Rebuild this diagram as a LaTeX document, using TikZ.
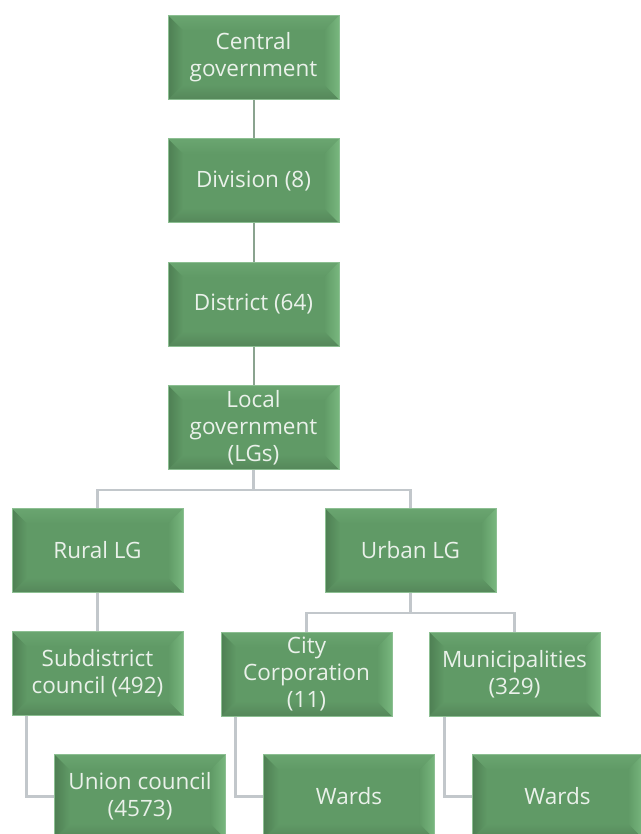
\documentclass[tikz,border=0pt]{standalone}
\usepackage{fontspec}
\setmainfont{Open Sans}
\usetikzlibrary{calc}
\definecolor{face}{HTML}{609A66}
\definecolor{bvdark}{HTML}{4E7F53}
\definecolor{bvlight}{HTML}{78B77E}
\definecolor{bvtop}{HTML}{6AA570}
\definecolor{bvbot}{HTML}{55875A}
\definecolor{boxborder}{HTML}{8CBF92}
\definecolor{txt}{HTML}{EAF1EA}
\definecolor{chainline}{HTML}{8AA38F}
\definecolor{treeline}{HTML}{C2C7CB}
\tikzset{
  orgbox/.style={rectangle, fill=face, draw=boxborder, line width=1pt,
    minimum width=171pt, minimum height=84pt, inner sep=0pt, align=center,
    text=txt, font=\fontsize{22.5}{27}\selectfont,
    path picture={
      \coordinate (bsw) at (path picture bounding box.south west);
      \coordinate (bse) at (path picture bounding box.south east);
      \coordinate (bnw) at (path picture bounding box.north west);
      \coordinate (bne) at (path picture bounding box.north east);
      \shade[top color=bvtop, bottom color=face] (bnw) -- (bne) -- ($(bne)+(-15pt,-15pt)$) -- ($(bnw)+(15pt,-15pt)$) -- cycle;
      \shade[top color=face, bottom color=bvbot] (bsw) -- (bse) -- ($(bse)+(-15pt,15pt)$) -- ($(bsw)+(15pt,15pt)$) -- cycle;
      \shade[left color=bvdark, right color=face] (bsw) -- (bnw) -- ($(bnw)+(15pt,-15pt)$) -- ($(bsw)+(15pt,15pt)$) -- cycle;
      \shade[left color=face, right color=bvlight] (bse) -- (bne) -- ($(bne)+(-15pt,-15pt)$) -- ($(bse)+(-15pt,15pt)$) -- cycle;
    }},
  chain/.style={draw=chainline, line width=2pt},
  tree/.style={draw=treeline, line width=2.2pt}
}
\begin{document}
\begin{tikzpicture}[x=1pt,y=-1pt]
\path[use as bounding box, fill=white] (0,0) rectangle (640,834);
\node[orgbox] (cg) at (253.5,57.5) {Central\\government};
\node[orgbox] (div) at (253.5,181) {Division (8)};
\node[orgbox] (dist) at (253.5,304) {District (64)};
\node[orgbox] (lg) at (253.5,427.5) {Local\\government\\(LGs)};
\node[orgbox] (rural) at (97.5,550.5) {Rural LG};
\node[orgbox] (urban) at (410.5,550.5) {Urban LG};
\node[orgbox] (sub) at (97.5,673.5) {Subdistrict\\council (492)};
\node[orgbox] (city) at (306.5,674) {City\\Corporation\\(11)};
\node[orgbox] (mun) at (514.5,674) {Municipalities\\(329)};
\node[orgbox] (union) at (140,796.5) {Union council\\(4573)};
\node[orgbox] (wards1) at (349,796.5) {Wards};
\node[orgbox] (wards2) at (557.5,796.5) {Wards};
\path[chain] (cg.south) -- (div.north);
\path[chain] (div.south) -- (dist.north);
\path[chain] (dist.south) -- (lg.north);
\path[tree] (lg.south) -- ++(0,20) -| (rural.north);
\path[tree] (lg.south) -- ++(0,20) -| (urban.north);
\path[tree] (rural.south) -- (sub.north);
\path[tree] (urban.south) -- ++(0,20) -| (city.north);
\path[tree] (urban.south) -- ++(0,20) -| (mun.north);
\path[tree] ($(sub.south west)+(15pt,0pt)$) |- (union.west);
\path[tree] ($(city.south west)+(15pt,0pt)$) |- (wards1.west);
\path[tree] ($(mun.south west)+(16pt,0pt)$) |- (wards2.west);
\end{tikzpicture}
\end{document}
